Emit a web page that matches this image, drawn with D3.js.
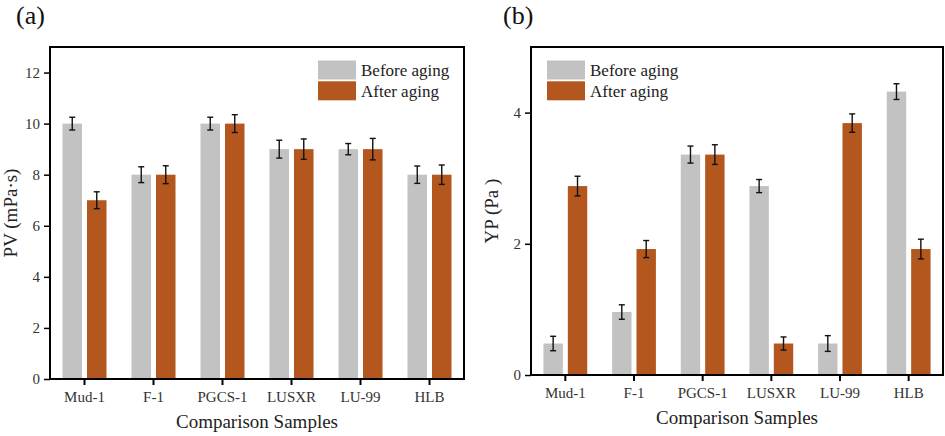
<!DOCTYPE html>
<html>
<head>
<meta charset="utf-8">
<script src="https://cdn.jsdelivr.net/npm/d3@7"></script>
<style>
  body { margin: 0; background: #fff; }
  svg { display: block; }
  text { font-family: "Liberation Serif", "Times New Roman", serif; }
</style>
</head>
<body>
<svg id="chart" width="945" height="436"></svg>
<script>
// ---- data ----
const categories = ["Mud-1", "F-1", "PGCS-1", "LUSXR", "LU-99", "HLB"];
const seriesNames = ["Before aging", "After aging"];

const pvBefore = [10, 8, 10, 9, 9, 8];
const pvAfter  = [7, 8, 10, 9, 9, 8];
const pvBeforeErr = [0.25, 0.31, 0.25, 0.35, 0.22, 0.34];
const pvAfterErr  = [0.33, 0.35, 0.35, 0.40, 0.42, 0.38];
const pvTicks = [0, 2, 4, 6, 8, 10, 12];

const ypBefore = [0.48, 0.96, 3.36, 2.88, 0.48, 4.32];
const ypAfter  = [2.88, 1.92, 3.36, 0.48, 3.84, 1.92];
const ypBeforeErr = [0.11, 0.11, 0.13, 0.10, 0.12, 0.12];
const ypAfterErr  = [0.15, 0.13, 0.15, 0.10, 0.14, 0.15];
const ypTicks = [0, 2, 4];

const colors = ["#c2c2c2", "#b3571f"];

const svg = d3.select("#chart");

function panel(opts) {
  const g = svg.append("g");
  const x = d3.scaleBand().domain(categories).range([opts.left, opts.right]).padding(0);
  const xs = d3.scaleBand().domain(seriesNames).range([0, x.bandwidth()])
    .paddingInner(0.204).paddingOuter(0.51);
  const y = d3.scaleLinear().domain(opts.domain).range([opts.bottom, opts.top]);

  const series = [
    { name: seriesNames[0], values: opts.before, errs: opts.beforeErr, color: colors[0] },
    { name: seriesNames[1], values: opts.after, errs: opts.afterErr, color: colors[1] }
  ];

  // bars
  series.forEach(s => {
    g.append("g").selectAll("rect").data(categories).join("rect")
      .attr("x", (c) => x(c) + xs(s.name))
      .attr("width", xs.bandwidth())
      .attr("y", (c, i) => y(s.values[i]))
      .attr("height", (c, i) => y(0) - y(s.values[i]))
      .attr("fill", s.color);
  });

  // error bars
  series.forEach(s => {
    const eg = g.append("g").attr("stroke", "#111").attr("stroke-width", 1.4).attr("fill", "none");
    categories.forEach((c, i) => {
      const cx = x(c) + xs(s.name) + xs.bandwidth() / 2;
      const hi = y(s.values[i] + s.errs[i]);
      const lo = y(s.values[i] - s.errs[i]);
      eg.append("line").attr("x1", cx).attr("x2", cx).attr("y1", hi).attr("y2", lo);
      eg.append("line").attr("x1", cx - 3).attr("x2", cx + 3).attr("y1", hi).attr("y2", hi);
      eg.append("line").attr("x1", cx - 3).attr("x2", cx + 3).attr("y1", lo).attr("y2", lo);
    });
  });

  // y axis
  const ya = g.append("g").attr("transform", `translate(${opts.left},0)`)
    .call(d3.axisLeft(y).tickValues(opts.ticks).tickSize(6).tickPadding(4).tickFormat(d3.format("d")));
  ya.select(".domain").remove();
  ya.selectAll(".tick line").attr("stroke", "#000").attr("stroke-width", 1.5);
  ya.selectAll(".tick text").attr("fill", "#333").style("font-size", "15px")
    .style("font-family", '"Liberation Serif", serif');

  // x axis
  const xa = g.append("g").attr("transform", `translate(0,${opts.bottom})`)
    .call(d3.axisBottom(x).tickSize(6).tickPadding(6));
  xa.select(".domain").remove();
  xa.selectAll(".tick line").attr("stroke", "#000").attr("stroke-width", 2);
  xa.selectAll(".tick text").attr("fill", "#333").style("font-size", "15px")
    .style("font-family", '"Liberation Serif", serif');

  // frame
  g.append("rect")
    .attr("x", opts.left).attr("y", opts.top)
    .attr("width", opts.right - opts.left).attr("height", opts.bottom - opts.top)
    .attr("fill", "none").attr("stroke", "#000").attr("stroke-width", 2);

  // axis titles
  g.append("text")
    .attr("x", (opts.left + opts.right) / 2).attr("y", opts.bottom + 49)
    .attr("text-anchor", "middle").attr("fill", "#222").style("font-size", "19px")
    .text("Comparison Samples");
  g.append("text")
    .attr("transform", `translate(${opts.yTitleX},${(opts.top + opts.bottom) / 2}) rotate(-90)`)
    .attr("text-anchor", "middle").attr("fill", "#222").style("font-size", "19px")
    .text(opts.yTitle);

  // panel label
  g.append("text").attr("x", opts.labelX).attr("y", 23.5)
    .attr("fill", "#111").style("font-size", "26px").text(opts.label);

  // legend
  const lg = g.append("g");
  series.forEach((s, i) => {
    lg.append("rect").attr("x", opts.legendX).attr("y", 60.5 + i * 20.8)
      .attr("width", 38).attr("height", 19).attr("fill", s.color);
    lg.append("text").attr("x", opts.legendX + 43).attr("y", 76 + i * 20.8)
      .attr("fill", "#222").style("font-size", "17px").text(s.name);
  });
}

panel({
  left: 50, right: 464, top: 47, bottom: 379,
  domain: [0, 13], ticks: pvTicks,
  before: pvBefore, after: pvAfter, beforeErr: pvBeforeErr, afterErr: pvAfterErr,
  yTitle: "PV (mPa·s)", yTitleX: 17, label: "(a)", labelX: 16, legendX: 318
});

panel({
  left: 531, right: 943, top: 47, bottom: 375,
  domain: [0, 5], ticks: ypTicks,
  before: ypBefore, after: ypAfter, beforeErr: ypBeforeErr, afterErr: ypAfterErr,
  yTitle: "YP (Pa )", yTitleX: 498, label: "(b)", labelX: 503, legendX: 547
});
</script>
</body>
</html>
